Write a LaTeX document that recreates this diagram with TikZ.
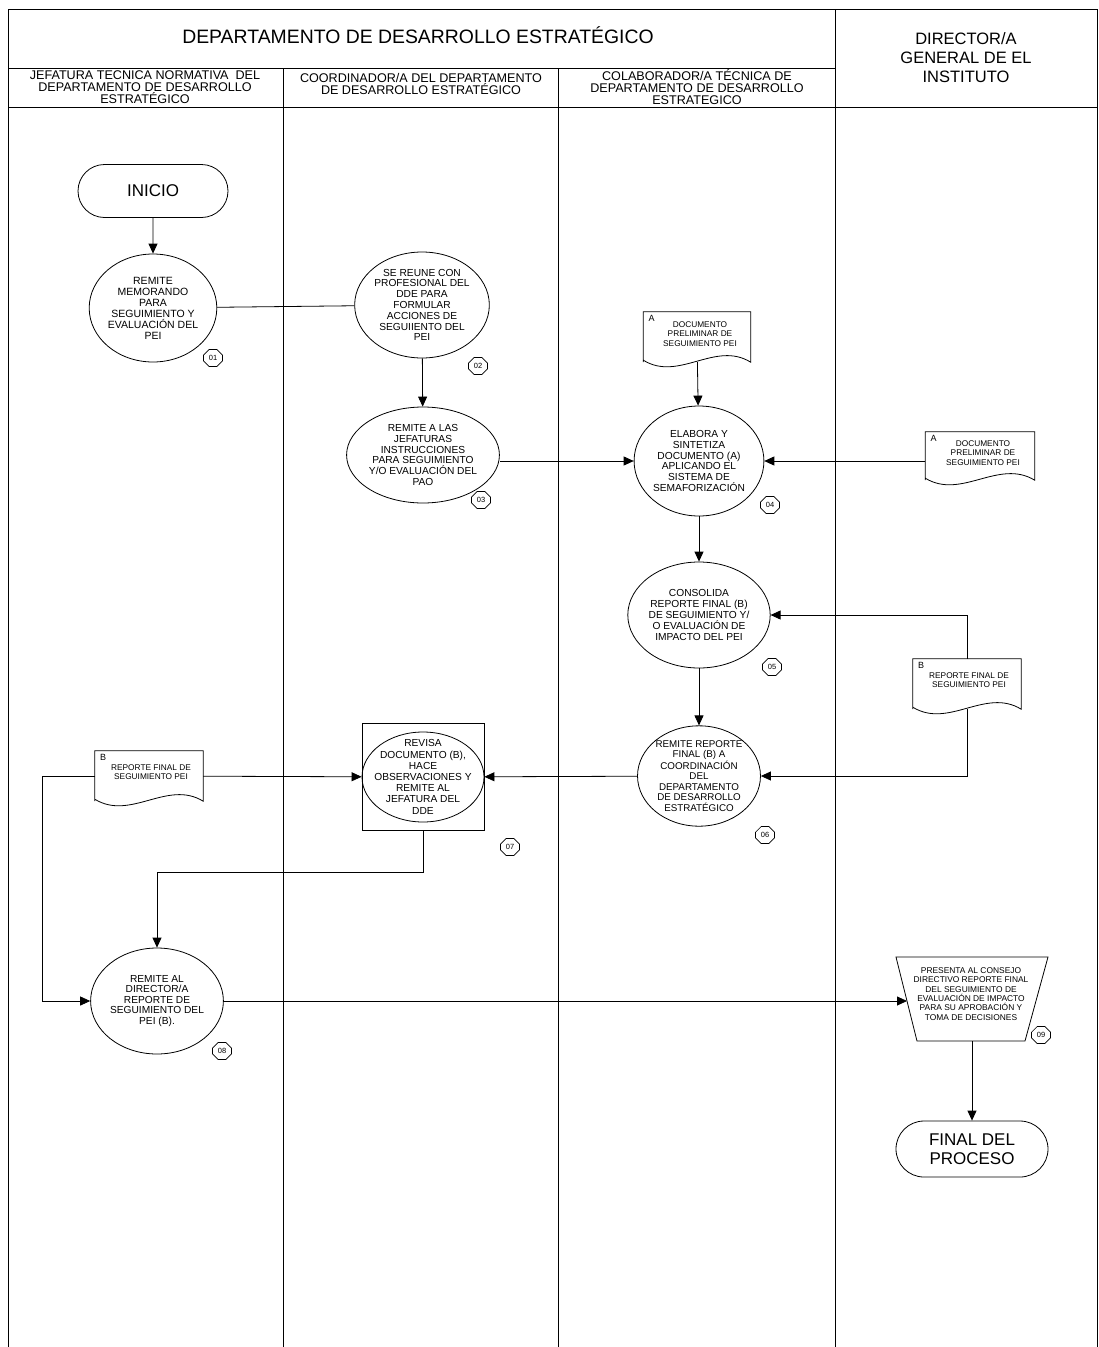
\documentclass[tikz,border=0pt]{standalone}
\usepackage{fontspec}
\setmainfont{Liberation Sans}
\usetikzlibrary{shapes.geometric,shapes.misc,arrows.meta,calc}
\tikzset{
  lane/.style={line width=0.9pt},
  con/.style={line width=0.8pt},
  arr/.style={line width=0.8pt,-{Triangle[length=10pt,width=9pt]}},
  proc/.style={ellipse,draw,line width=0.8pt,inner sep=0pt,align=center,font=\fontsize{10.2}{10.8}\selectfont},
  term/.style={rounded rectangle,draw,line width=0.8pt,inner sep=0pt,align=center,font=\fontsize{17}{18.5}\selectfont},
  docbox/.style={rectangle,inner sep=0pt,minimum width=108pt,minimum height=50pt},
  doctxt/.style={align=center,inner sep=0pt,font=\fontsize{8.3}{9.6}\selectfont},
  doclet/.style={inner sep=0pt,anchor=north west,font=\fontsize{9}{10}\selectfont},
  tag/.style={chamfered rectangle,chamfered rectangle xsep=3pt,chamfered rectangle ysep=3pt,draw,line width=0.6pt,minimum width=19pt,minimum height=17pt,inner sep=0pt,font=\fontsize{7.5}{8}\selectfont},
  lanehead/.style={align=center,inner sep=0pt,font=\fontsize{12.6}{12}\selectfont},
}
\newcommand\docout[1]{\draw[con] (#1.south west) -- (#1.north west) -- (#1.north east) -- (#1.south east)
  .. controls ($(#1.south east)!0.33!(#1.south west)+(0,-22)$) and ($(#1.south east)!0.67!(#1.south west)+(0,20)$) .. ($(#1.south west)+(0,-2)$) -- cycle;}
\begin{document}
\begin{tikzpicture}[x=1pt,y=-1pt]
\useasboundingbox (0,0) rectangle (1098,1347);
% ---- swimlane frame
\draw[lane] (8,1347) -- (8,9) -- (1097,9) -- (1097,1347);
\draw[lane] (835,9) -- (835,1347);
\draw[lane] (283,68) -- (283,1347);
\draw[lane] (558,68) -- (558,1347);
\draw[lane] (8,68) -- (835,68);
\draw[lane] (8,107) -- (1097,107);
% ---- headers
\node[inner sep=0pt,font=\fontsize{19.4}{22}\selectfont] (title) at (418,35) {DEPARTAMENTO DE DESARROLLO ESTRATÉGICO};
\node[align=center,inner sep=0pt,font=\fontsize{16.5}{19}\selectfont] (dirh) at (966,58) {DIRECTOR/A\\GENERAL DE EL\\INSTITUTO};
\node[lanehead] (h1) at (145,87) {JEFATURA TECNICA NORMATIVA\ \ DEL\\DEPARTAMENTO DE DESARROLLO\\ESTRATÉGICO};
\node[lanehead] (h2) at (421,84) {COORDINADOR/A DEL DEPARTAMENTO\\DE DESARROLLO ESTRATÉGICO};
\node[lanehead] (h3) at (697,87) {COLABORADOR/A TÉCNICA DE\\DEPARTAMENTO DE DESARROLLO\\ESTRATEGICO};
% ---- terminals
\node[term,minimum width=150pt,minimum height=53pt] (ini) at (153,191) {INICIO};
\node[term,minimum width=152pt,minimum height=56pt] (fin) at (972,1149) {FINAL DEL\\PROCESO};
% ---- process circles
\node[proc,minimum width=122pt,minimum height=108pt,font=\fontsize{10.5}{11}\selectfont] (n01) at (153,308) {REMITE\\MEMORANDO\\PARA\\SEGUIMIENTO Y\\EVALUACIÓN DEL\\PEI};
\node[proc,minimum width=117pt,minimum height=106pt] (n02) at (422,305) {SE REUNE CON\\PROFESIONAL DEL\\DDE PARA\\FORMULAR\\ACCIONES DE\\SEGUIIENTO DEL\\PEI};
\node[proc,minimum width=118pt,minimum height=96pt] (n03) at (423,455) {REMITE A LAS\\JEFATURAS\\INSTRUCCIONES\\PARA SEGUIMIENTO\\Y/O EVALUACIÓN DEL\\PAO};
\node[proc,minimum width=121pt,minimum height=110pt] (n04) at (699,461) {ELABORA Y\\SINTETIZA\\DOCUMENTO (A)\\APLICANDO EL\\SISTEMA DE\\SEMAFORIZACIÓN};
\node[proc,minimum width=121pt,minimum height=106pt] (n05) at (699,615) {CONSOLIDA\\REPORTE FINAL (B)\\DE SEGUIMIENTO Y/\\O EVALUACIÓN DE\\IMPACTO DEL PEI};
\node[proc,minimum width=121pt,minimum height=100pt,font=\fontsize{9.8}{10.5}\selectfont] (n06) at (699,776) {REMITE REPORTE\\FINAL (B) A\\COORDINACIÓN\\DEL\\DEPARTAMENTO\\DE DESARROLLO\\ESTRATÉGICO};
\node[draw,rectangle,line width=0.8pt,minimum width=122pt,minimum height=107pt,inner sep=0pt,align=center,font=\fontsize{10.2}{11.2}\selectfont] (b07) at (423,777) {REVISA\\DOCUMENTO (B),\\HACE\\OBSERVACIONES Y\\REMITE AL\\JEFATURA DEL\\DDE};
\node[ellipse,draw,line width=0.8pt,minimum width=122pt,minimum height=90pt,inner sep=0pt] (e07) at (b07.center) {};
\node[proc,minimum width=121pt,minimum height=106pt,font=\fontsize{10.2}{10.5}\selectfont] (n08) at (157,1001) {REMITE AL\\DIRECTOR/A\\REPORTE DE\\SEGUIMIENTO DEL\\PEI (B).};
% ---- trapezoid 09
\coordinate (t9a) at (896,957);
\coordinate (t9b) at (1048,957);
\coordinate (t9c) at (1025,1041);
\coordinate (t9d) at (917,1041);
\draw[con] (t9a) -- (t9b) -- (t9c) -- (t9d) -- cycle;
\coordinate (t9w) at (907,1001);
\coordinate (t9s) at (972,1041);
\node[align=center,inner sep=0pt,font=\fontsize{8.4}{9.3}\selectfont] (n09) at (971,994) {PRESENTA AL CONSEJO\\DIRECTIVO REPORTE FINAL\\DEL SEGUIMIENTO DE\\EVALUACIÓN DE IMPACTO\\PARA SU APROBACIÓN Y\\TOMA DE DECISIONES};
% ---- documents
\node[docbox,minimum width=107pt] (dA) at (697,337) {};
\docout{dA}
\node[doctxt] (dAt) at (700,334) {DOCUMENTO\\PRELIMINAR DE\\SEGUIMIENTO PEI};
\node[doclet] (dAl) at ($(dA.north west)+(5,3)$) {A};
\node[docbox,minimum width=109pt,minimum height=48pt] (dA2) at (980,456) {};
\docout{dA2}
\node[doctxt] (dA2t) at (983,453) {DOCUMENTO\\PRELIMINAR DE\\SEGUIMIENTO PEI};
\node[doclet] (dA2l) at ($(dA2.north west)+(5,3)$) {A};
\node[docbox] (dB2) at (967,684) {};
\docout{dB2}
\node[doctxt] (dB2t) at (969,680) {REPORTE FINAL DE\\SEGUIMIENTO PEI};
\node[doclet] (dB2l) at ($(dB2.north west)+(5,3)$) {B};
\node[docbox] (dB3) at (149,776) {};
\docout{dB3}
\node[doctxt] (dB3t) at (151,772) {REPORTE FINAL DE\\SEGUIMIENTO PEI};
\node[doclet] (dB3l) at ($(dB3.north west)+(5,3)$) {B};
% ---- step tags
\node[tag] (g01) at (213,358) {01};
\node[tag] (g02) at (478,366) {02};
\node[tag] (g03) at (481,500) {03};
\node[tag] (g04) at (770,505) {04};
\node[tag] (g05) at (772,667) {05};
\node[tag] (g06) at (765,835) {06};
\node[tag] (g07) at (510,847) {07};
\node[tag] (g08) at (222,1051) {08};
\node[tag] (g09) at (1041,1035) {09};
% ---- connectors
\draw[arr] (ini) -- (n01);
\draw[con] (n01) -- (n02);
\draw[arr] (n02) -- (n03);
\draw[arr] (n03.east |- n04.center) -- (n04);
\draw[arr] (dA) -- (n04);
\draw[arr] (dA2.west |- n04.center) -- (n04);
\draw[arr] (n04) -- (n05);
\draw[arr] (dB2.north) |- (n05);
\draw[arr] (n05) -- (n06);
\draw[arr] (dB2.south) |- (n06);
\draw[arr] (n06) -- (b07);
\draw[arr] (dB3) -- (b07);
\coordinate (k1) at (423,872);
\draw[arr] (b07) -- (k1) -| (n08);
\coordinate (k2) at (42,776);
\draw[arr] (dB3) -- (k2) |- (n08);
\draw[arr] (n08) -- (t9w);
\draw[arr] (t9s) -- (fin);
\end{tikzpicture}
\end{document}
